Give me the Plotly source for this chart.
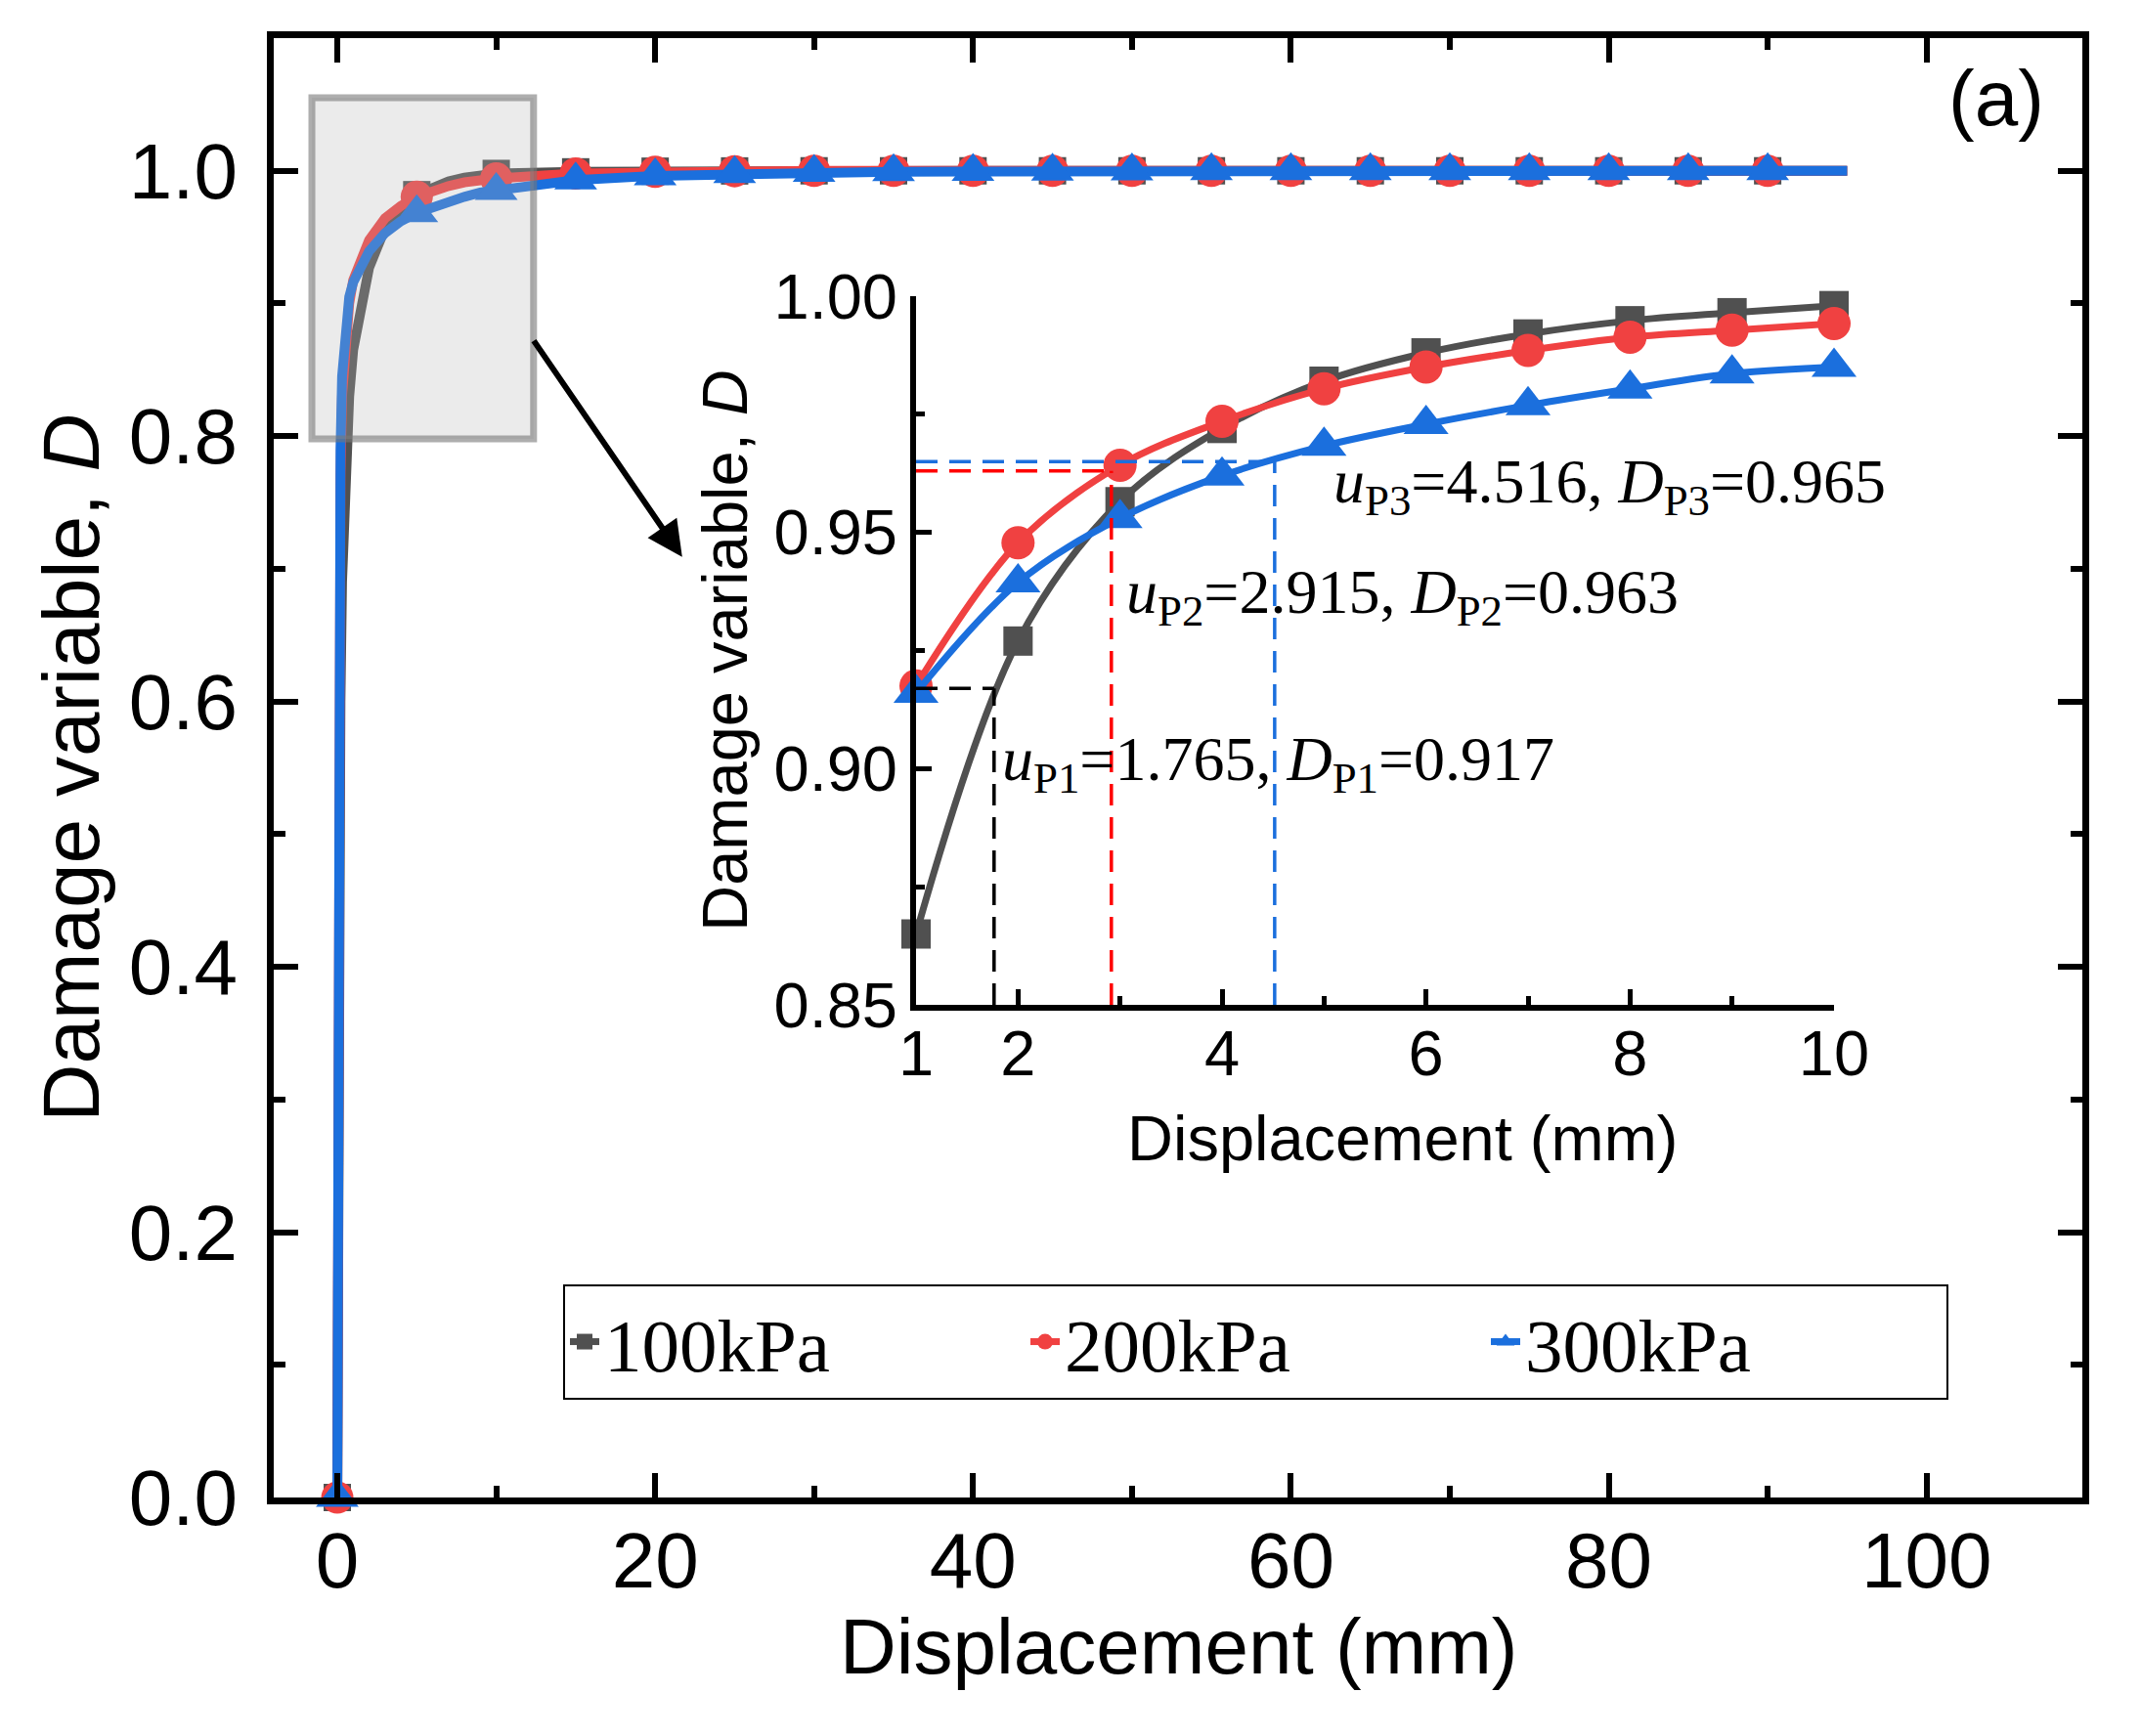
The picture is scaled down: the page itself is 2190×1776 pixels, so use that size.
import plotly.graph_objects as go

# ---------------- data ----------------
series_names = ["100kPa", "200kPa", "300kPa"]
colors = ["#505050", "#F04141", "#1B6FDD"]
symbols = ["square", "circle", "triangle-up"]

# main chart: steep start, inset range, long tail
x_early = [0, 0.05, 0.1, 0.2, 0.3, 0.5, 0.75]
d100_early = [0, 0.25, 0.42, 0.60, 0.69, 0.77, 0.83]
d200_early = [0, 0.45, 0.62, 0.77, 0.83, 0.875, 0.90]
d300_early = [0, 0.50, 0.66, 0.79, 0.845, 0.885, 0.905]

x_inset = [1, 2, 3, 4, 5, 6, 7, 8, 9, 10]
d100_inset = [0.865, 0.927, 0.9565, 0.972, 0.982, 0.988, 0.992, 0.9948, 0.9965, 0.998]
d200_inset = [0.9175, 0.9478, 0.9642, 0.9735, 0.9804, 0.985, 0.9885, 0.9913, 0.9928, 0.9942]
d300_inset = [0.916, 0.9394, 0.953, 0.962, 0.9683, 0.9729, 0.9769, 0.9804, 0.9836, 0.985]

x_late = [15, 20, 25, 30, 35, 40, 45, 50, 55, 60, 65, 70, 75, 80, 85, 90, 95]
d100_late = [0.9992, 0.9997, 0.9999, 1.0, 1.0, 1.0, 1.0, 1.0, 1.0, 1.0, 1.0, 1.0, 1.0, 1.0, 1.0, 1.0, 1.0]
d200_late = [0.9980, 0.9992, 0.9997, 0.9999, 1.0, 1.0, 1.0, 1.0, 1.0, 1.0, 1.0, 1.0, 1.0, 1.0, 1.0, 1.0, 1.0]
d300_late = [0.9930, 0.9962, 0.9978, 0.9987, 0.9992, 0.9995, 0.9997, 0.9998, 0.9999, 1.0, 1.0, 1.0, 1.0, 1.0, 1.0, 1.0, 1.0]

# peak points
peak_labels = ["P1", "P2", "P3"]
u_peak = [1.765, 2.915, 4.516]
d_peak = [0.917, 0.963, 0.965]
peak_colors = ["#000000", "#FF0000", "#1B6FDD"]
peak_text_x = [1.82, 3.04, 5.07]
peak_text_y = [0.9012, 0.9365, 0.9598]

main_x_ticks = [0, 20, 40, 60, 80, 100]
inset_x_ticks = [1, 2, 4, 6, 8, 10]
marker_step = 5
marker_max = 90

x_title = "Displacement (mm)"
y_title = "Damage variable, <i>D</i>"

# ---------------- figure ----------------
SANS = "Liberation Sans, Arial, sans-serif"
SERIF = "Liberation Serif, Times New Roman, serif"

x_main = x_early + x_inset + x_late
d_main = [d100_early + d100_inset + d100_late,
          d200_early + d200_inset + d200_late,
          d300_early + d300_inset + d300_late]
d_ins = [d100_inset, d200_inset, d300_inset]

fig = go.Figure()

msize_main = [28, 33, 38]
msize_ins = [30, 34, 40]

for i in range(3):
    fig.add_trace(go.Scatter(
        x=x_main, y=d_main[i], mode="lines",
        line=dict(color=colors[i], width=10),
        showlegend=False, xaxis="x", yaxis="y", hoverinfo="skip"))
    mx = [x for x in x_main if x % marker_step == 0 and x <= marker_max]
    my = [d_main[i][x_main.index(x)] for x in mx]
    fig.add_trace(go.Scatter(
        x=mx, y=my, mode="markers",
        marker=dict(symbol=symbols[i], color=colors[i], size=msize_main[i], line=dict(width=0)),
        showlegend=False, cliponaxis=False, xaxis="x", yaxis="y"))

for i in range(3):
    fig.add_trace(go.Scatter(
        x=x_inset, y=d_ins[i], mode="lines+markers", name=series_names[i],
        line=dict(color=colors[i], width=7, shape="spline", smoothing=1),
        marker=dict(symbol=symbols[i], color=colors[i], size=msize_ins[i], line=dict(width=0)),
        cliponaxis=False, xaxis="x2", yaxis="y2"))

# geometry (figure pixels)
W, H = 2190, 1776
L, T = 272, 31
pw, ph = 1850, 1493
R, B = W - L - pw, H - T - ph
ins_left, ins_right, ins_top, ins_bot = 929, 1868, 295, 1020

def px_x(p):
    return (p - L) / pw

def px_y(p):
    return (H - B - p) / ph

shapes = []
# highlight rectangle on main chart
shapes.append(dict(type="rect", xref="x", yref="y", x0=-1.6, x1=12.35, y0=0.798, y1=1.055,
                   fillcolor="rgba(180,180,180,0.27)",
                   line=dict(color="rgba(120,120,120,0.6)", width=7), layer="above"))
for i in range(3):
    shapes.append(dict(type="line", xref="x2", yref="y2", x0=x_inset[0], x1=u_peak[i],
                       y0=d_peak[i], y1=d_peak[i],
                       line=dict(color=peak_colors[i], width=3.5, dash="22px,12px"), layer="above"))
    shapes.append(dict(type="line", xref="x2", yref="y2", x0=u_peak[i], x1=u_peak[i],
                       y0=0.85, y1=d_peak[i],
                       line=dict(color=peak_colors[i], width=3.5, dash="22px,12px"), layer="above"))

annotations = []
annotations.append(dict(text="(a)", x=104.4, y=1.055, xref="x", yref="y", showarrow=False,
                        font=dict(family=SANS, size=80, color="black"),
                        xanchor="center", yanchor="middle"))
annotations.append(dict(text="", x=21.7, y=0.709, ax=12.3, ay=0.873, xref="x", yref="y",
                        axref="x", ayref="y", showarrow=True, arrowhead=2, arrowsize=1.2,
                        arrowwidth=6, arrowcolor="black"))
for i in range(3):
    lab = peak_labels[i]
    txt = (f"<i>u</i><sub>{lab}</sub>={u_peak[i]:.3f}, "
           f"<i>D</i><sub>{lab}</sub>={d_peak[i]:.3f}")
    annotations.append(dict(text=txt, x=peak_text_x[i], y=peak_text_y[i], xref="x2", yref="y2",
                            showarrow=False, xanchor="left", yanchor="middle",
                            font=dict(family=SERIF, size=64, color="black")))
# axis titles placed as annotations for precise positioning
annotations.append(dict(text=x_title, x=0.5, y=-0.102, xref="x domain", yref="y domain",
                        showarrow=False, xanchor="center", yanchor="middle",
                        font=dict(family=SANS, size=80, color="black")))
annotations.append(dict(text=x_title, x=0.53, y=-0.1885, xref="x2 domain", yref="y2 domain",
                        showarrow=False, xanchor="center", yanchor="middle",
                        font=dict(family=SANS, size=65, color="black")))

axis_common = dict(showgrid=False, zeroline=False, showline=True, linecolor="black",
                   ticks="inside", tickcolor="black")

fig.update_layout(
    width=W, height=H,
    margin=dict(l=L, r=R, t=T, b=B, autoexpand=False),
    paper_bgcolor="white", plot_bgcolor="white",
    xaxis=dict(**axis_common, range=[-4, 109.8], tickvals=main_x_ticks,
               linewidth=7, mirror="ticks", ticklen=25, tickwidth=6, ticklabelstandoff=-11,
               minor=dict(ticks="inside", dtick=10, tick0=0, ticklen=12, tickwidth=6, tickcolor="black"),
               tickfont=dict(family=SANS, size=80, color="black")),
    yaxis=dict(**axis_common, range=[0, 1.1], dtick=0.2, tick0=0, tickformat=".1f",
               linewidth=7, mirror="ticks", ticklen=25, tickwidth=6, ticklabelstandoff=14,
               minor=dict(ticks="inside", dtick=0.1, tick0=0, ticklen=12, tickwidth=6, tickcolor="black"),
               tickfont=dict(family=SANS, size=80, color="black"),
               title=dict(text=y_title, font=dict(family=SANS, size=82, color="black"), standoff=6)),
    xaxis2=dict(**axis_common, domain=[px_x(ins_left), px_x(ins_right)], anchor="y2",
                range=[1, 10], tickvals=inset_x_ticks, linewidth=6, ticklen=16, tickwidth=5,
                ticklabelstandoff=-12,
                minor=dict(ticks="inside", tickvals=[3, 5, 7, 9], ticklen=9, tickwidth=5, tickcolor="black"),
                tickfont=dict(family=SANS, size=65, color="black")),
    yaxis2=dict(**axis_common, domain=[px_y(ins_bot), px_y(ins_top)], anchor="x2",
                range=[0.85, 1.0], dtick=0.05, tick0=0.85, tickformat=".2f",
                linewidth=6, ticklen=16, tickwidth=5,
                minor=dict(ticks="inside", dtick=0.025, tick0=0.85, ticklen=9, tickwidth=5, tickcolor="black"),
                tickfont=dict(family=SANS, size=65, color="black"),
                title=dict(text=y_title, font=dict(family=SANS, size=65, color="black"), standoff=8)),
    legend=dict(orientation="h", x=px_x(568), y=px_y(1306), xanchor="left", yanchor="top",
                font=dict(family=SERIF, size=77, color="black"),
                bordercolor="black", borderwidth=2, bgcolor="white",
                entrywidth=426, entrywidthmode="pixels", itemwidth=30),
    shapes=shapes, annotations=annotations,
)

fig.write_html("out.html")
